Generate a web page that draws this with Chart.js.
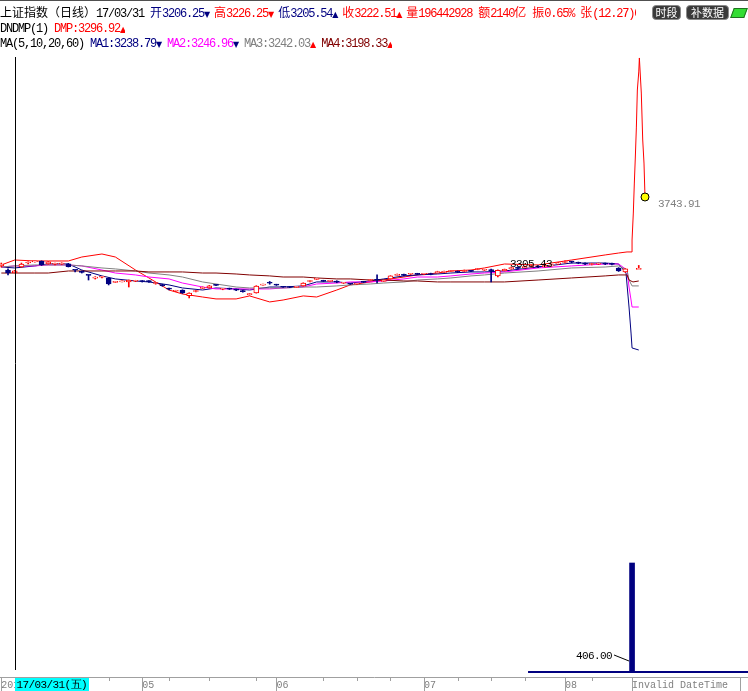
<!DOCTYPE html>
<html>
<head>
<meta charset="utf-8">
<script src="https://cdn.jsdelivr.net/npm/chart.js@4"></script>
<style>
  html, body { margin: 0; padding: 0; background: #fff; }
  #wrap { position: relative; width: 748px; height: 691px; overflow: hidden; }
  #wrap canvas { position: absolute; left: 0; top: 0; }
  .topline { position: absolute; left: 0; top: 0; width: 748px; height: 1px; background: #505050; }
  .row { position: absolute; left: 0; white-space: pre; font: 12px "Liberation Mono", monospace; letter-spacing: -1.2px; line-height: 14px; color: #000; overflow: hidden; }
  .c { font: 12px "Noto Sans CJK SC"; letter-spacing: 0; line-height: 14px; }
  .a { display: inline-block; width: 5px; font: 8px "DejaVu Sans"; letter-spacing: 0; overflow: visible; }
  .a1 { width: 4px; }
  .n { color: #000080; }
  .r { color: #ff0000; }
  .m { color: #ff00ff; }
  .g { color: #808080; }
  .d { color: #800000; }
  .btn { position: absolute; top: 5px; height: 13px; background: #3a3a3a; color: #fff; border: 1px solid #8a8a8a; border-radius: 4px; font: 11px "Noto Sans CJK SC"; line-height: 13px; text-align: center; }
  .chip { position: absolute; left: 732px; top: 8px; width: 12px; height: 8px; background: #33dd33; border: 1px solid #207020; transform: skewX(-20deg); }
</style>
</head>
<body>
<div id="wrap">
  <canvas id="kline" width="748" height="691"></canvas>
  <div class="topline"></div>
  <div class="row" style="top:5px;width:636px"><span class="c">上证指数（日线）</span>17/03/31 <span class="n"><span class="c">开</span>3206.25<span class="a a1">▼</span></span> <span class="r"><span class="c">高</span>3226.25<span class="a a1">▼</span></span> <span class="n"><span class="c">低</span>3205.54<span class="a a1">▲</span></span> <span class="r"><span class="c">收</span>3222.51<span class="a a1">▲</span> <span class="c">量</span>196442928 <span class="c">额</span>2140<span class="c">亿</span> <span class="c">振</span>0.65% <span class="c">张</span>(12.27)0.38%</span></div>
  <div class="row" style="top:22px">DNDMP(1) <span class="r">DMP:3296.92<span class="a">▲</span></span></div>
  <div class="row" style="top:37px">MA(5,10,20,60) <span class="n">MA1:3238.79<span class="a">▼</span></span> <span class="m">MA2:3246.96<span class="a n">▼</span></span> <span class="g">MA3:3242.03<span class="a r">▲</span></span> <span class="d">MA4:3198.33<span class="a r">▲</span></span></div>
  <div class="btn" style="left:652px;width:27px">时段</div>
  <div class="btn" style="left:686px;width:41px">补数据</div>
  <div class="chip"></div>
</div>
<script>
// daily bars, index 0 = 2017/03/29 ... index 94 is the bogus "Invalid DateTime" bar
const openP = [3264,3230,3206.25,3255,3288,3297,3305,3280,3278,3280,
  3282,3232,3218,3189,3162,3170,3164,3128,3131,3131,
  3137,3141,3141,3118,3110,3075,3054,3064,3017,3052,
  3078,3081,3108,3070,3076,3066,3060,3026,3040,3104,
  3124,3110,3092,3090,3086,3098,3135,3152,3142,3136,
  3133,3120,3116,3112,3134,3143,3152,3136,3156,3186,
  3192,3195,3200,3195,3200,3207,3210,3218,3218,3218,
  3225,3234,3228,3234,3180,3225,3240,3252,3248,3256,
  3262,3256,3264,3280,3292,3298,3292,3285,3276,3278,
  3284,3280,3247,3214,null,3243];
const closeP = [3280,3205,3222.51,3280,3292,3300,3272,3297,3285,3288,
  3258,3228,3210,3185,3166,3175,3114,3134,3133,3147,
  3141,3135,3133,3124,3100,3071,3058,3040,3039,3060,
  3085,3098,3103,3075,3072,3063,3050,3034,3096,3107,
  3120,3104,3087,3085,3090,3122,3140,3158,3136,3142,
  3130,3124,3112,3118,3128,3150,3145,3142,3181,3189,
  3186,3200,3194,3200,3193,3218,3216,3224,3212,3224,
  3219,3240,3234,3222,3228,3235,3250,3244,3258,3264,
  3254,3266,3272,3290,3300,3295,3286,3278,3282,3284,
  3278,3277,3222,3239,null,3243];
const highP = [3288,3239,3226.25,3288,3297,3305,3306,3300,3288,3290,
  3285,3232,3222,3189,3175,3178,3166,3136,3139,3147,
  3145,3143,3143,3128,3112,3080,3062,3066,3041,3062,
  3090,3102,3110,3078,3080,3072,3062,3036,3100,3114,
  3135,3112,3094,3092,3093,3124,3142,3160,3145,3145,
  3141,3126,3118,3120,3136,3152,3189,3145,3183,3197,
  3197,3202,3203,3203,3204,3220,3222,3226,3222,3230,
  3228,3243,3236,3237,3232,3238,3255,3256,3262,3268,
  3266,3270,3276,3292,3305.43,3303,3296,3290,3286,3288,
  3288,3288,3250,3241,null,3268];
const lowP = [3255,3189,3205.54,3252,3280,3295,3268,3278,3272,3276,
  3255,3214,3205,3147,3155,3165,3106,3126,3131,3089,
  3133,3130,3128,3112,3095,3065,3052,3035,2998,3048,
  3075,3079,3100,3066,3068,3058,3046,3022,3038,3104,
  3112,3102,3085,3083,3084,3096,3132,3150,3134,3133,
  3124,3118,3110,3110,3126,3140,3122,3133,3154,3186,
  3182,3193,3190,3192,3190,3205,3208,3216,3208,3216,
  3216,3232,3226,3131,3172,3222,3236,3240,3246,3252,
  3250,3254,3260,3276,3288,3288,3282,3274,3272,3275,
  3275,3272,3218,3210,null,3243];

// indicator lines, read at these bar positions
const maX = [0,2,5,7,10,12,15,17,20,22,25,27,30,32,35,37,40,42,45,47,50,52,55,57,60,62,65,67,70,72,75,80,85,90,92];
const ma1 = [3255,3247,3264,3280,3280,3230,3181,3156,3139,3131,3106,3081,3064,3081,3073,3064,3089,3089,3098,3131,3131,3122,3139,3156,3181,3189,3197,3205,3214,3214,3222,3255,3288,3288,3280];
const ma2 = [3255,3264,3264,3272,3272,3264,3230,3205,3189,3172,3156,3122,3089,3073,3073,3073,3073,3081,3089,3114,3122,3131,3131,3139,3156,3172,3172,3181,3197,3205,3214,3247,3264,3280,3280];
const ma3 = [3255,3264,3272,3272,3272,3264,3247,3239,3222,3205,3189,3172,3131,3114,3089,3081,3081,3081,3089,3089,3098,3106,3114,3122,3131,3147,3156,3164,3181,3189,3205,3222,3247,3255,3264];
const ma4 = [3205,3205,3205,3205,3222,3222,3222,3222,3222,3214,3214,3214,3205,3205,3197,3189,3181,3172,3172,3164,3156,3156,3147,3147,3139,3139,3131,3131,3131,3131,3131,3147,3164,3181,3189];
const dmp = [3272,3313,3305,3305,3305,3338,3363,3338,3230,3164,3064,3031,3006,2990,2990,3015,2965,2981,3015,3006,3064,3106,3131,3147,3172,3189,3205,3222,3230,3247,3280,3272,3313,3355,3371];

// what the lines do on the bogus last bars
const ma1TailX = [93.1, 93.55, 93.85, 94.0, 95.0];
const ma1Tail = [3205, 2923, 2707, 2583, 2566];
const ma2TailX = [93.25, 93.55, 93.85, 94.0, 95.0];
const ma2Tail = [3230, 3089, 2981, 2923, 2923];
const ma3TailX = [93.25, 93.55, 94.0, 95.0];
const ma3Tail = [3230, 3147, 3098, 3098];
const ma4TailX = [93.25, 93.55, 94.14, 95.0];
const ma4Tail = [3189, 3147, 3131, 3139];
const dmpTailX = [93.25, 94.0, 94.0, 94.19, 94.34, 94.49, 94.64, 94.79, 95.0, 95.09, 95.19, 95.38, 95.59, 95.78, 95.93];
const dmpTail = [3380, 3380, 3479, 3703, 3952, 4168, 4409, 4724, 4874, 4990, 4890, 4699, 4309, 4118, 3836];

const volX = [94];
const vol = [406];
const volBaseX = [78.5, 111.3];

const monthTicks = [0, 21, 41, 63, 84, 94, 110.1];
const monthLabels = ['2017/03', '05', '06', '07', '08', 'Invalid DateTime', ''];
const weekTicks = [16, 25, 31, 38, 48, 53, 58, 68, 73, 78, 88];
const cursorIdx = 2;
const cursorLabel = '17/03/31(五)';
const maxIdx = 84;

const RED = '#ff0000';
const NAVY = '#000080';

const pts = (xs, ys) => xs.map((x, i) => ({ x, y: ys[i] }));
const candleIdx = openP.map((_, i) => i).filter(i => openP[i] !== null);
const isUp = i => closeP[i] >= openP[i];

const dmpPts = pts(maX, dmp).concat(pts(dmpTailX, dmpTail));

const lineDs = (label, data, color) => ({
  type: 'line', label, data, borderColor: color, borderWidth: 1,
  pointRadius: 0, tension: 0, yAxisID: 'y', order: 3
});

const deco = {
  id: 'deco',
  afterDraw(chart) {
    const { ctx, chartArea: a, scales: { x, y, y2 } } = chart;
    const px = v => Math.round(x.getPixelForValue(v)) + 0.5;
    ctx.save();
    ctx.strokeStyle = '#a0a0a0';
    ctx.lineWidth = 1;
    ctx.beginPath();
    monthTicks.forEach(v => { ctx.moveTo(px(v), a.bottom); ctx.lineTo(px(v), chart.height); });
    weekTicks.forEach(v => { ctx.moveTo(px(v), a.bottom); ctx.lineTo(px(v), a.bottom + 4); });
    ctx.stroke();

    // cursor line and date box
    const cx = px(cursorIdx);
    const zero = y2.getPixelForValue(0);
    ctx.strokeStyle = '#000';
    ctx.beginPath(); ctx.moveTo(cx, a.top); ctx.lineTo(cx, zero - 2); ctx.stroke();
    ctx.fillStyle = '#00ffff';
    ctx.fillRect(cx - 0.5, a.bottom + 1, 74, chart.height - a.bottom - 1);
    ctx.fillStyle = '#000';
    ctx.font = '11px "Liberation Mono"';
    ctx.letterSpacing = '-0.6px';
    ctx.textBaseline = 'middle';
    ctx.textAlign = 'left';
    ctx.fillText(cursorLabel, cx + 1, a.bottom + 8);

    // highest price label
    ctx.textAlign = 'right';
    ctx.fillText(highP[maxIdx].toFixed(2), x.getPixelForValue(maxIdx) - 13, y.getPixelForValue(highP[maxIdx]) + 3);

    // last DMP value
    const last = dmpPts[dmpPts.length - 1];
    ctx.fillStyle = '#808080';
    ctx.textAlign = 'left';
    ctx.fillText('3743.91', x.getPixelForValue(last.x) + 13, y.getPixelForValue(last.y) + 7);

    // volume label
    const vx = x.getPixelForValue(volX[0]);
    ctx.fillStyle = '#000';
    ctx.textAlign = 'right';
    ctx.fillText(vol[0].toFixed(2), vx - 20, zero - 16);
    ctx.beginPath(); ctx.moveTo(vx - 18, zero - 17); ctx.lineTo(vx - 3, zero - 11); ctx.stroke();
    ctx.restore();
  }
};

new Chart(document.getElementById('kline'), {
  data: {
    datasets: [
      lineDs('MA4', pts(maX, ma4).concat(pts(ma4TailX, ma4Tail)), '#800000'),
      lineDs('MA3', pts(maX, ma3).concat(pts(ma3TailX, ma3Tail)), '#808080'),
      lineDs('MA2', pts(maX, ma2).concat(pts(ma2TailX, ma2Tail)), '#ff00ff'),
      lineDs('MA1', pts(maX, ma1).concat(pts(ma1TailX, ma1Tail)), NAVY),
      Object.assign(lineDs('DMP', dmpPts, RED), {
        pointRadius: c => c.dataIndex === dmpPts.length - 1 ? 4 : 0,
        pointBackgroundColor: '#ffff00', pointBorderColor: '#000', pointBorderWidth: 1
      }),
      {
        type: 'bar', label: 'wick', yAxisID: 'y', order: 2, grouped: false,
        data: candleIdx.map(i => ({ x: i, y: [lowP[i], highP[i]] })),
        backgroundColor: candleIdx.map(i => isUp(i) ? RED : NAVY),
        barThickness: 1, minBarLength: 1
      },
      {
        type: 'bar', label: 'body', yAxisID: 'y', order: 1, grouped: false,
        data: candleIdx.map(i => ({ x: i, y: [openP[i], closeP[i]] })),
        backgroundColor: candleIdx.map(i => isUp(i) ? '#ffffff' : NAVY),
        borderColor: candleIdx.map(i => isUp(i) ? RED : NAVY),
        borderWidth: 1, borderSkipped: false, barThickness: 5, minBarLength: 1
      },
      {
        type: 'bar', label: 'VOL', yAxisID: 'y2', order: 0, grouped: false,
        data: pts(volX, vol.map(v => [0, v])),
        backgroundColor: NAVY, barThickness: 5
      },
      {
        type: 'line', label: 'volbase', yAxisID: 'y2', order: 0,
        data: pts(volBaseX, [0, 0]), borderColor: NAVY, borderWidth: 2, pointRadius: 0
      }
    ]
  },
  options: {
    responsive: false,
    animation: false,
    devicePixelRatio: 1,
    layout: { autoPadding: false, padding: { top: 57, left: 0, right: 0, bottom: 0 } },
    plugins: { legend: { display: false }, tooltip: { enabled: false } },
    scales: {
      x: {
        type: 'linear', min: -0.194, max: 111.28, offset: false,
        afterBuildTicks: s => { s.ticks = monthTicks.map(v => ({ value: v })); },
        afterFit: s => { s.height = 14; s.paddingLeft = 0; s.paddingRight = 0; },
        grid: { display: true, drawOnChartArea: false, drawTicks: false, offset: false },
        border: { color: '#a0a0a0' },
        ticks: {
          autoSkip: false, maxRotation: 0, align: 'start', padding: 2, color: '#808080',
          font: { family: 'Liberation Mono', size: 10 },
          callback: (v, i) => monthLabels[i]
        }
      },
      y: { display: false, min: -148, max: 4998 },
      y2: { display: false, min: -18.6, max: 2290.6 }
    }
  },
  plugins: [deco]
});
</script>
</body>
</html>
